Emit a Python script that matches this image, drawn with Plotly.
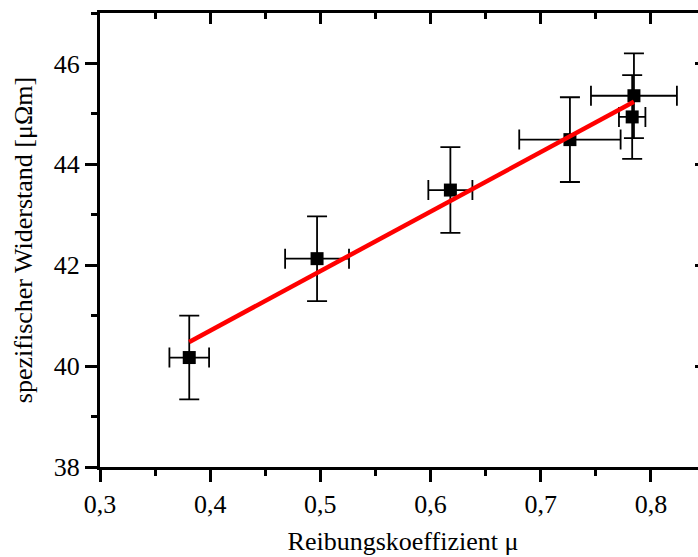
import plotly.graph_objects as go

# Data
mu = [0.381, 0.497, 0.618, 0.7265, 0.7846, 0.783]
rho = [40.17, 42.13, 43.49, 44.49, 45.36, 44.94]
mu_err = [0.018, 0.029, 0.020, 0.046, 0.039, 0.012]
rho_err = [0.83, 0.84, 0.85, 0.84, 0.84, 0.83]
fit_x = [0.381, 0.7846]
fit_y = [40.48, 45.24]

FONT = "Liberation Serif"
XR = [0.3, 0.85]
YR = [38, 47]

fig = go.Figure()
fig.add_trace(go.Scatter(
    x=mu, y=rho, mode="markers",
    marker=dict(symbol="square", size=13, color="black"),
    error_x=dict(type="data", array=mu_err, color="black", thickness=1.8, width=10),
    error_y=dict(type="data", array=rho_err, color="black", thickness=1.8, width=10),
    showlegend=False, cliponaxis=False,
))
fig.add_trace(go.Scatter(
    x=fit_x, y=fit_y, mode="lines",
    line=dict(color="#ff0000", width=4.5), showlegend=False,
))

common = dict(showgrid=False, zeroline=False, linecolor="black", linewidth=3,
              tickcolor="black", tickwidth=3, showline=True)

fig.update_layout(
    width=712, height=557,
    margin=dict(l=100, r=6, t=13, b=86),
    paper_bgcolor="white", plot_bgcolor="white",
    font=dict(family=FONT, color="black", size=26),
    separators=",.",
    xaxis=dict(range=XR, dtick=0.1, tick0=0.3, ticks="outside", ticklen=12,
               tickformat=".1f",
               minor=dict(dtick=0.05, tick0=0.3, ticklen=6, tickwidth=3, tickcolor="black", ticks="outside"),
               title=dict(text="Reibungskoeffizient μ", font=dict(size=26), standoff=14),
               tickfont=dict(size=26), **common),
    yaxis=dict(range=YR, dtick=2, tick0=38, ticks="outside", ticklen=12,
               minor=dict(dtick=1, tick0=38, ticklen=6, tickwidth=3, tickcolor="black", ticks="outside"),
               title=dict(text="spezifischer Widerstand [μΩm]", font=dict(size=26), standoff=14),
               tickfont=dict(size=26), **common),
    xaxis2=dict(range=XR, overlaying="x", side="top", anchor="y", dtick=0.1, tick0=0.3,
                ticks="inside", ticklen=11, showticklabels=False,
                minor=dict(dtick=0.05, tick0=0.3, ticklen=6, tickwidth=3, tickcolor="black", ticks="inside"),
                **common),
    yaxis2=dict(range=YR, overlaying="y", side="right", anchor="x", dtick=2, tick0=38,
                ticks="inside", ticklen=11, showticklabels=False,
                minor=dict(dtick=1, tick0=38, ticklen=6, tickwidth=3, tickcolor="black", ticks="inside"),
                **common),
)
# invisible trace to activate the overlay axes
fig.add_trace(go.Scatter(x=[None], y=[None], xaxis="x2", yaxis="y2", showlegend=False, hoverinfo="skip"))

fig.write_html("out.html",
               post_script="document.documentElement.style.overflow='hidden';document.body.style.overflow='hidden';document.body.style.margin='0';")
